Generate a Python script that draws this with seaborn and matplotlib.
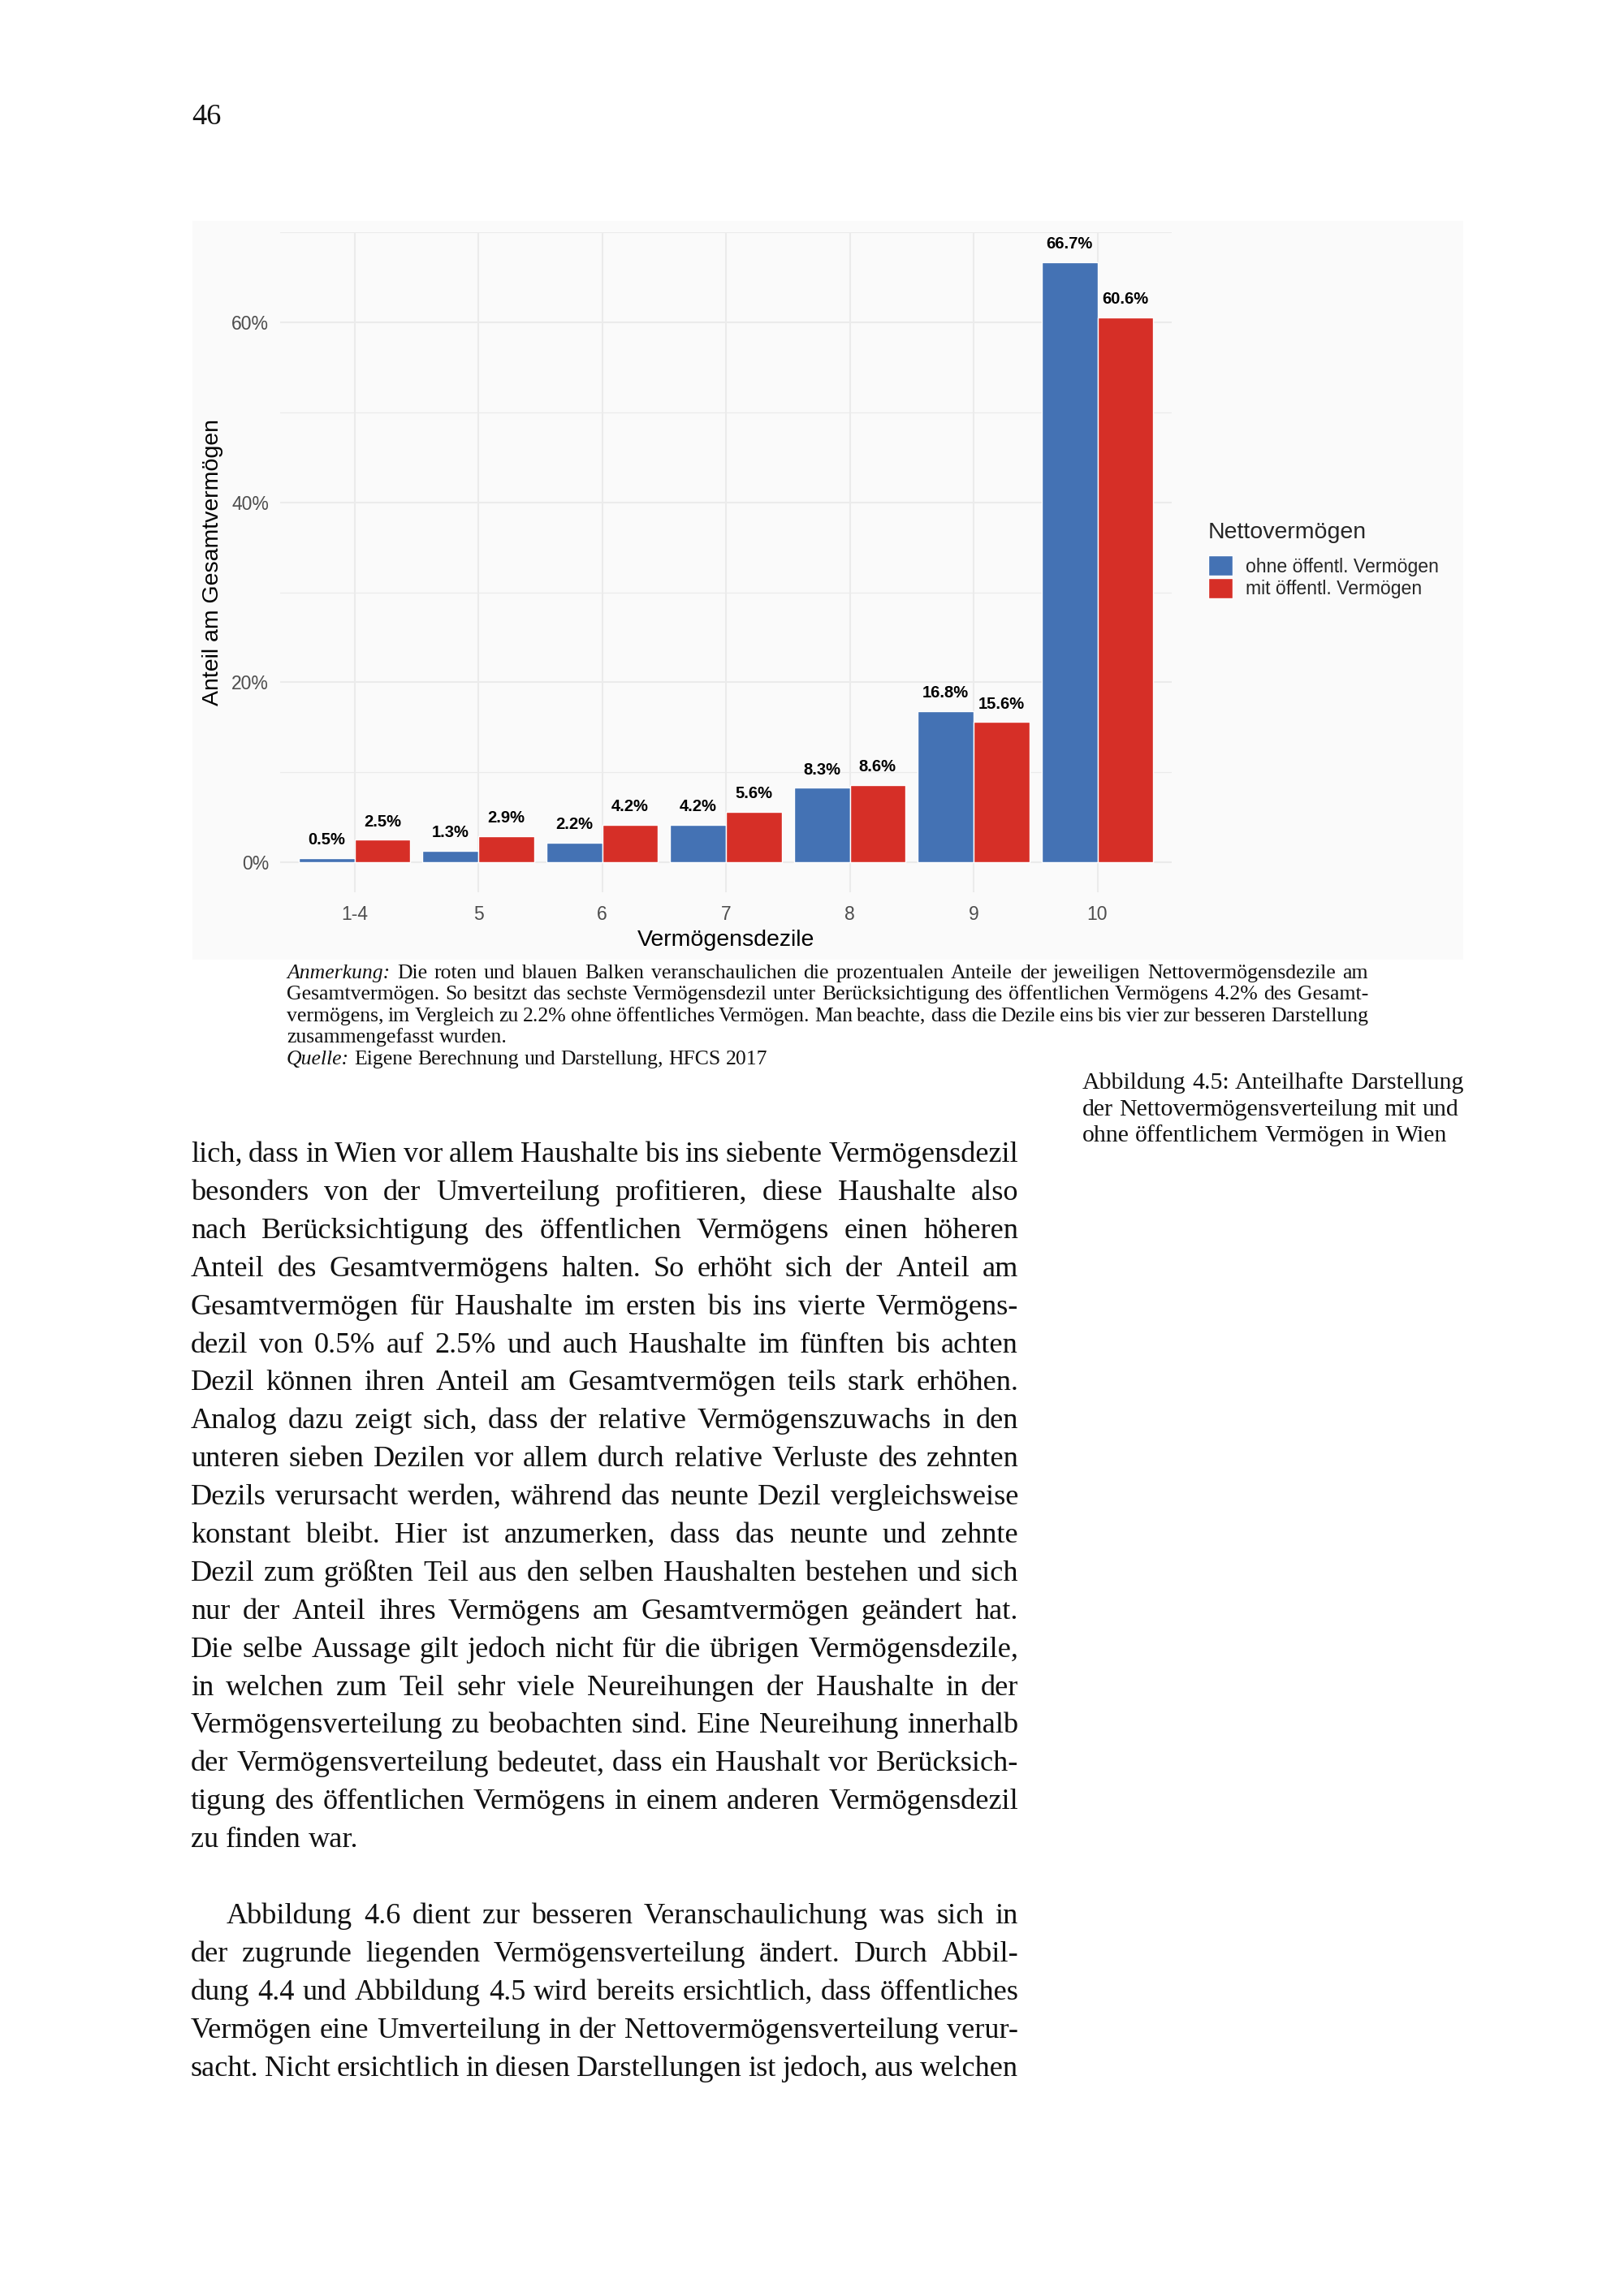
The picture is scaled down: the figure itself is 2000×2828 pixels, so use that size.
import pandas as pd
import matplotlib
matplotlib.use('Agg')
import matplotlib.pyplot as plt
import seaborn as sns
from matplotlib.patches import Rectangle
from matplotlib.ticker import FuncFormatter, FixedLocator

# --- data ---
dezile = ['1-4', '5', '6', '7', '8', '9', '10']
ohne_oeff = [0.5, 1.3, 2.2, 4.2, 8.3, 16.8, 66.7]
mit_oeff = [2.5, 2.9, 4.2, 5.6, 8.6, 15.6, 60.6]
gruppen = ['ohne öffentl. Vermögen', 'mit öffentl. Vermögen']
farben = ['#4472b4', '#d62f27']
y_ticks = [0, 20, 40, 60]

# --- page text ---
seitenzahl = '46'
anmerkung = [
    'Anmerkung: Die roten und blauen Balken veranschaulichen die prozentualen Anteile der jeweiligen Nettovermögensdezile am',
    'Gesamtvermögen. So besitzt das sechste Vermögensdezil unter Berücksichtigung des öffentlichen Vermögens 4.2% des Gesamt-',
    'vermögens, im Vergleich zu 2.2% ohne öffentliches Vermögen. Man beachte, dass die Dezile eins bis vier zur besseren Darstellung',
    'zusammengefasst wurden.',
    'Quelle: Eigene Berechnung und Darstellung, HFCS 2017',
]
caption = [
    'Abbildung 4.5: Anteilhafte Darstellung',
    'der Nettovermögensverteilung mit und',
    'ohne öffentlichem Vermögen in Wien',
]
absatz1 = [
    'lich, dass in Wien vor allem Haushalte bis ins siebente Vermögensdezil',
    'besonders von der Umverteilung profitieren, diese Haushalte also',
    'nach Berücksichtigung des öffentlichen Vermögens einen höheren',
    'Anteil des Gesamtvermögens halten. So erhöht sich der Anteil am',
    'Gesamtvermögen für Haushalte im ersten bis ins vierte Vermögens-',
    'dezil von 0.5% auf 2.5% und auch Haushalte im fünften bis achten',
    'Dezil können ihren Anteil am Gesamtvermögen teils stark erhöhen.',
    'Analog dazu zeigt sich, dass der relative Vermögenszuwachs in den',
    'unteren sieben Dezilen vor allem durch relative Verluste des zehnten',
    'Dezils verursacht werden, während das neunte Dezil vergleichsweise',
    'konstant bleibt. Hier ist anzumerken, dass das neunte und zehnte',
    'Dezil zum größten Teil aus den selben Haushalten bestehen und sich',
    'nur der Anteil ihres Vermögens am Gesamtvermögen geändert hat.',
    'Die selbe Aussage gilt jedoch nicht für die übrigen Vermögensdezile,',
    'in welchen zum Teil sehr viele Neureihungen der Haushalte in der',
    'Vermögensverteilung zu beobachten sind. Eine Neureihung innerhalb',
    'der Vermögensverteilung bedeutet, dass ein Haushalt vor Berücksich-',
    'tigung des öffentlichen Vermögens in einem anderen Vermögensdezil',
    'zu finden war.',
]
absatz2 = [
    'Abbildung 4.6 dient zur besseren Veranschaulichung was sich in',
    'der zugrunde liegenden Vermögensverteilung ändert. Durch Abbil-',
    'dung 4.4 und Abbildung 4.5 wird bereits ersichtlich, dass öffentliches',
    'Vermögen eine Umverteilung in der Nettovermögensverteilung verur-',
    'sacht. Nicht ersichtlich in diesen Darstellungen ist jedoch, aus welchen',
]

SANS = 'Liberation Sans'
SERIF = 'Liberation Serif'
W, H = 2000, 2828


def fx(x):
    return x / W


def fy(y):
    return 1 - y / H


sns.set_theme(style='white')
plt.rcParams['font.family'] = [SANS, 'DejaVu Sans']

fig = plt.figure(figsize=(20, 28.28), dpi=100)
fig.patch.set_facecolor('white')

# light panel behind the embedded chart image
fig.patches.append(Rectangle((fx(237), fy(1182)), (1802 - 237) / W, (1182 - 272) / H,
                             transform=fig.transFigure, facecolor='#fafafa',
                             edgecolor='none', zorder=-10))

ax = fig.add_axes([fx(345), fy(1099), (1443 - 345) / W, (1099 - 286) / H])
ax.set_facecolor('none')

df = pd.DataFrame({
    'Dezil': dezile * 2,
    'Anteil': ohne_oeff + mit_oeff,
    'Nettovermögen': [gruppen[0]] * len(dezile) + [gruppen[1]] * len(dezile),
})
sns.barplot(data=df, x='Dezil', y='Anteil', hue='Nettovermögen', palette=farben,
            width=0.9, saturation=1, errorbar=None, ax=ax, zorder=2)

for cont, vals in zip(ax.containers, [ohne_oeff, mit_oeff]):
    ax.bar_label(cont, labels=[f'{v:.1f}%' for v in vals], padding=9,
                 fontsize=14.5, fontweight='bold', color='black')

ax.set_xlim(-0.6, len(dezile) - 0.4)
ax.set_ylim(-3.335, 70.035)
ax.yaxis.set_major_locator(FixedLocator(y_ticks))
ax.yaxis.set_minor_locator(FixedLocator([10, 30, 50, 70]))
ax.yaxis.set_major_formatter(FuncFormatter(lambda v, p: f'{v:.0f}%'))
ax.grid(which='major', color='#ebebeb', lw=1.5)
ax.grid(which='minor', axis='y', color='#ebebeb', lw=0.9)
ax.set_axisbelow(True)
for s in ax.spines.values():
    s.set_visible(False)
ax.tick_params(axis='both', which='both', length=0, labelsize=16.5, colors='#4d4d4d')
ax.tick_params(axis='y', pad=10)
ax.tick_params(axis='x', pad=11.5)

ax.set_xlabel('Vermögensdezile', fontsize=20.5, color='black')
ax.xaxis.label.set_va('baseline')
ax.xaxis.set_label_coords(0.5, (1099 - 1165) / (1099 - 286))
ax.set_ylabel('Anteil am Gesamtvermögen', fontsize=20.5, color='black')
ax.yaxis.label.set_va('center')
ax.yaxis.set_label_coords((262 - 345) / (1443 - 345), 0.5)

handles, labels = ax.get_legend_handles_labels()
leg = ax.legend(handles, labels, title='Nettovermögen', loc='upper left',
                bbox_to_anchor=(fx(1488), fy(643)), bbox_transform=fig.transFigure,
                frameon=False, fontsize=16.6, title_fontsize=20.5,
                handlelength=1.3, handleheight=1.3, handletextpad=0.7,
                labelspacing=0.1, borderpad=0, borderaxespad=0, alignment='left')
leg._legend_box.sep = 11  # gap between legend title and keys, in points

# --- page text (justified like the book page) ---
renderer = fig.canvas.get_renderer()


def word_width(s, size, style='normal'):
    t = fig.text(0, 0, s, fontsize=size, family=SERIF, style=style)
    w = t.get_window_extent(renderer=renderer).width
    t.remove()
    return w


def draw_line(line, x0, x1, y, size, justify, italic_first=False):
    words = line.split(' ')
    styles = ['italic' if (italic_first and i == 0) else 'normal' for i in range(len(words))]
    widths = [word_width(w, size, s) for w, s in zip(words, styles)]
    space = 0.25 * size / 0.72
    if justify and len(words) > 1:
        space = (x1 - x0 - sum(widths)) / (len(words) - 1)
    x = x0
    for w, s, wd in zip(words, styles, widths):
        fig.text(fx(x), fy(y), w, fontsize=size, family=SERIF, style=s,
                 va='baseline', ha='left', color='#111111')
        x += wd + space


def fit_size(lines, target, size, min_space=0.22):
    # largest size at which every line still fits with a minimal word space
    worst = 0.0
    for ln in lines:
        words = ln.split(' ')
        nat = sum(word_width(w, size) for w in words) + min_space * size / 0.72 * (len(words) - 1)
        worst = max(worst, nat / target)
    return size / worst


body_size = fit_size(absatz1[:-1] + absatz2[1:], 1254 - 235, 23.8)
note_size = fit_size(anmerkung[:3], 1685 - 353, 17.1)
cap_size = fit_size(caption[:1], 1802 - 1333, 18.4, min_space=0.25)

fig.text(fx(236), fy(153), seitenzahl, fontsize=body_size, family=SERIF,
         va='baseline', ha='left', color='#111111')

for i, ln in enumerate(anmerkung):
    draw_line(ln, 353, 1685, 1205 + i * 26.4, note_size, justify=i < 3,
              italic_first=(i == 0 or i == 4))

for i, ln in enumerate(caption):
    draw_line(ln, 1333, 1802, 1341 + i * 32.5, cap_size, justify=False)

line_gap = 46.9
y0 = 1431
for i, ln in enumerate(absatz1):
    draw_line(ln, 235, 1254, y0 + i * line_gap, body_size, justify=i < len(absatz1) - 1)
y1 = y0 + (len(absatz1) + 1) * line_gap
for i, ln in enumerate(absatz2):
    draw_line(ln, 279 if i == 0 else 235, 1254, y1 + i * line_gap, body_size, justify=True)

fig.savefig('out.png', dpi=100, facecolor='white')
